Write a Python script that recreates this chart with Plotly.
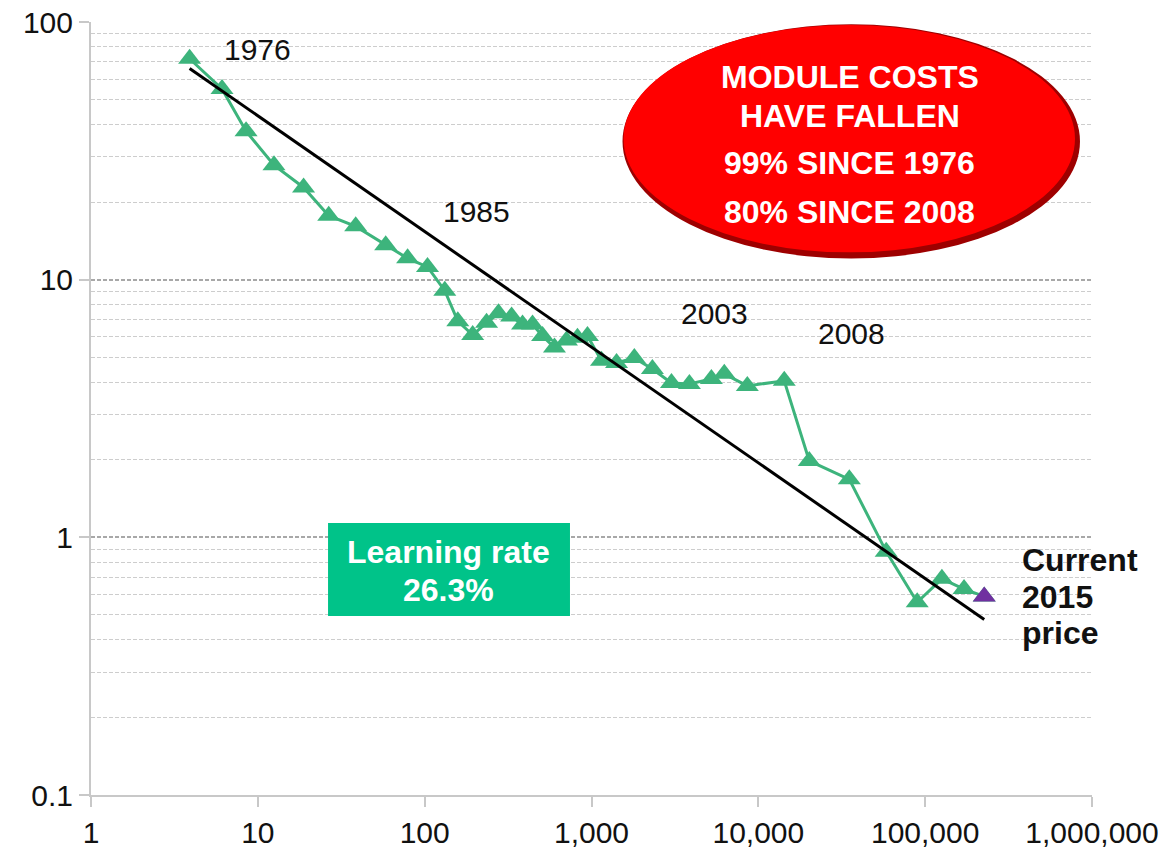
import numpy as np
import plotly.graph_objects as go

# Cumulative installed capacity (MW) and module price ($/W)
cum_mw = [3.9, 6.1, 8.5, 12.5, 18.8, 26.6, 38.6, 58.4, 79, 104, 132, 158, 194, 235, 277, 332,
          386, 443, 509, 600, 708, 824, 946, 1148, 1413, 1806, 2318, 3015, 3862, 5230, 6250,
          8590, 14300, 20200, 35100, 58400, 89600, 126000, 171000, 226000]
price = [72, 55, 37.7, 27.8, 22.8, 17.7, 16.1, 13.6, 12.1, 11.2, 9.06, 6.9, 6.1, 6.8, 7.4, 7.2,
         6.7, 6.7, 6.05, 5.45, 5.8, 5.95, 6.05, 4.85, 4.75, 4.97, 4.5, 3.97, 3.94, 4.12, 4.31,
         3.87, 4.05, 1.98, 1.68, 0.88, 0.56, 0.69, 0.63, 0.59]
current_x = [226000]
current_y = [0.59]
trend_x = [3.9, 226000]
trend_y = [66, 0.48]

x_tickvals = [1, 10, 100, 1000, 10000, 100000, 1000000]
x_ticktext = ["1", "10", "100", "1,000", "10,000", "100,000", "1,000,000"]
y_tickvals = [0.1, 1, 10, 100]
y_ticktext = ["0.1", "1", "10", "100"]
y_minor = [m * d for d in [0.1, 1, 10] for m in range(2, 10)]

year_labels = ["1976", "1985", "2003", "2008"]
year_x = [10, 205, 5450, 36000]
year_y = [78, 18.4, 7.4, 6.2]

GREEN = "#3db47c"
FONT = "Liberation Sans, Arial, sans-serif"

fig = go.Figure()
fig.add_trace(go.Scatter(x=cum_mw, y=price, mode="lines+markers",
                         line=dict(color=GREEN, width=3),
                         marker=dict(symbol="triangle-up", size=20, color=GREEN),
                         showlegend=False))
fig.add_trace(go.Scatter(x=trend_x, y=trend_y, mode="lines",
                         line=dict(color="black", width=3), showlegend=False))
fig.add_trace(go.Scatter(x=current_x, y=current_y, mode="markers",
                         marker=dict(symbol="triangle-up", size=20, color="#7030a0"),
                         showlegend=False))

for t, xv, yv in zip(year_labels, year_x, year_y):
    fig.add_annotation(x=np.log10(xv), y=np.log10(yv), text=t, showarrow=False,
                       xanchor="center", yanchor="middle",
                       font=dict(size=30, color="#111", family=FONT))

# red ellipse (dark rim + bright body)
fig.add_shape(type="circle", xref="paper", yref="paper", x0=0.531, x1=0.988, y0=0.694, y1=0.997,
              fillcolor="#9e0000", line=dict(width=0), layer="above")
fig.add_shape(type="circle", xref="paper", yref="paper", x0=0.532, x1=0.983, y0=0.702, y1=0.996,
              fillcolor="#ff0000", line=dict(width=0), layer="above")
ell_lines = ["MODULE COSTS", "HAVE FALLEN", "99% SINCE 1976", "80% SINCE 2008"]
ell_py = [77, 116, 163, 212]
for t, py in zip(ell_lines, ell_py):
    fig.add_annotation(x=0.758, y=(795 - py) / 773, xref="paper", yref="paper", text="<b>" + t + "</b>",
                       xanchor="center", yanchor="middle",
                       showarrow=False, font=dict(size=32, color="white", family=FONT))

# green box
fig.add_shape(type="rect", xref="paper", yref="paper", x0=0.2368, x1=0.4785, y0=0.2316, y1=0.352,
              fillcolor="#00c389", line=dict(width=0), layer="above")
for t, py in zip(["Learning rate", "26.3%"], [552, 590]):
    fig.add_annotation(x=0.3576, y=(795 - py) / 773, xref="paper", yref="paper", text="<b>" + t + "</b>",
                       xanchor="center", yanchor="middle",
                       showarrow=False, font=dict(size=32, color="white", family=FONT))

for t, py in zip(["Current", "2015", "price"], [560, 597, 633]):
    fig.add_annotation(x=0.928, y=(795 - py) / 773, xref="paper", yref="paper", text="<b>" + t + "</b>",
                       xanchor="left", yanchor="middle",
                       showarrow=False, font=dict(size=32, color="#111", family=FONT))

fig.update_xaxes(type="log", range=[0, 6], tickvals=x_tickvals, ticktext=x_ticktext,
                 showgrid=False, zeroline=False, showline=True, linecolor="#c8c8c8", linewidth=2,
                 ticks="outside", ticklen=10, tickcolor="#c8c8c8", tickwidth=2, automargin=False,
                 ticklabeloverflow="allow",
                 tickfont=dict(size=30, color="#111", family=FONT))
fig.update_yaxes(type="log", range=[-1, 2], tickvals=y_tickvals, ticktext=y_ticktext,
                 showgrid=True, gridcolor="#a8a8a8", gridwidth=1.5, griddash="4px,2px",
                 zeroline=False, showline=True, linecolor="#c8c8c8", linewidth=2,
                 ticks="outside", ticklen=10, tickcolor="#c8c8c8", tickwidth=2, automargin=False,
                 ticklabeloverflow="allow",
                 tickfont=dict(size=30, color="#111", family=FONT),
                 minor=dict(tickvals=y_minor, showgrid=True, gridcolor="#cdcdcd", gridwidth=1.2,
                            griddash="4px,2px", ticks=""))

fig.update_layout(width=1165, height=849, margin=dict(l=91, r=73, t=22, b=54),
                  plot_bgcolor="white", paper_bgcolor="white", showlegend=False)
fig.write_html("out.html", config={"displayModeBar": False},
               post_script="document.body.style.margin='0';document.body.style.overflow='hidden';")
